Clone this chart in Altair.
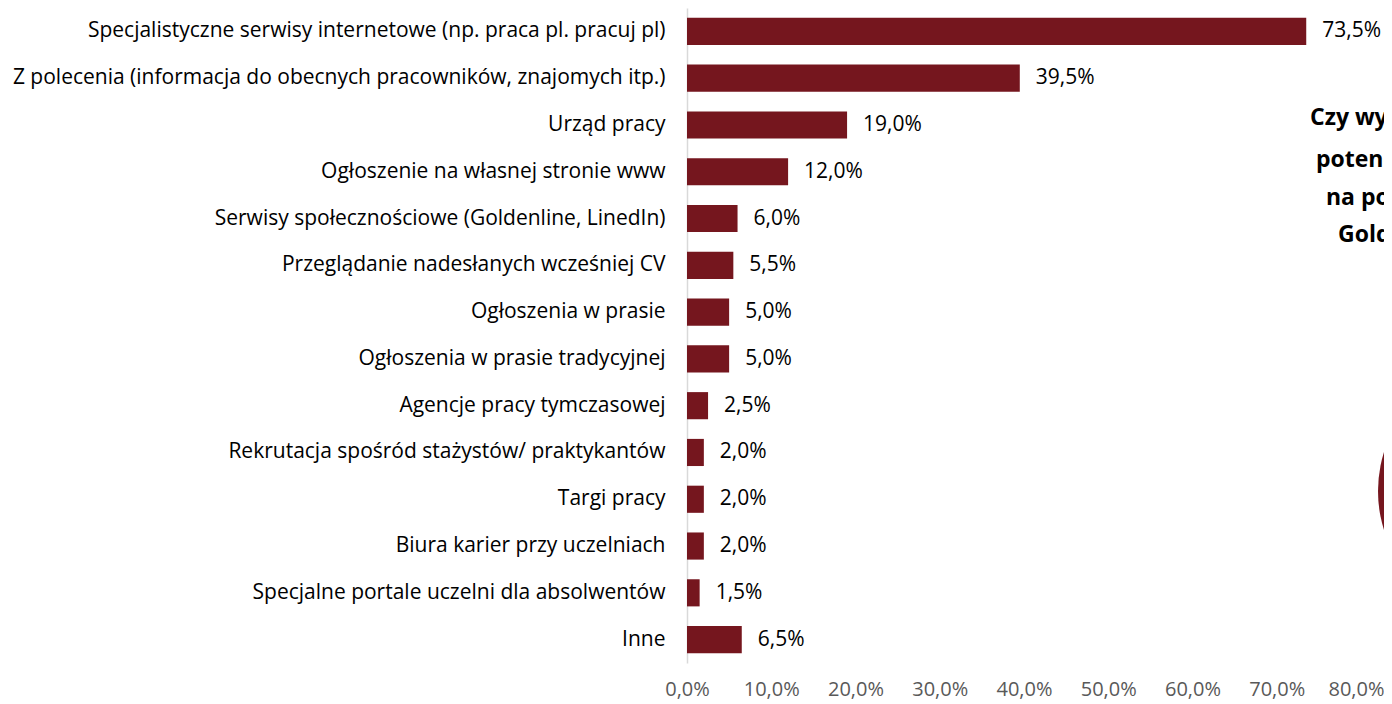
import altair as alt
import pandas as pd

categories = [
    "Specjalistyczne serwisy internetowe (np. praca pl. pracuj pl)",
    "Z polecenia (informacja do obecnych pracowników, znajomych itp.)",
    "Urząd pracy",
    "Ogłoszenie na własnej stronie www",
    "Serwisy społecznościowe (Goldenline, LinedIn)",
    "Przeglądanie nadesłanych wcześniej CV",
    "Ogłoszenia w prasie",
    "Ogłoszenia w prasie tradycyjnej",
    "Agencje pracy tymczasowej",
    "Rekrutacja spośród stażystów/ praktykantów",
    "Targi pracy",
    "Biura karier przy uczelniach",
    "Specjalne portale uczelni dla absolwentów",
    "Inne",
]
values = [73.5, 39.5, 19.0, 12.0, 6.0, 5.5, 5.0, 5.0, 2.5, 2.0, 2.0, 2.0, 1.5, 6.5]
x_ticks = [0, 10, 20, 30, 40, 50, 60, 70, 80]

side_lines = ["Czy wykorzystują", "potencjał", "na  portalu", "GoldenLine?"]

df = pd.DataFrame({
    "cat": categories,
    "val": values,
    "label": [f"{v:.1f}%".replace(".", ",") for v in values],
})

FONT = "Open Sans"
FS = 21
W, H = 674, 655

y_enc = alt.Y("cat:N", sort=categories, title=None,
              scale=alt.Scale(paddingInner=0.42, paddingOuter=0.21),
              axis=alt.Axis(labelFontSize=FS, labelColor="#000000", labelFont=FONT,
                            ticks=False, domain=True, domainColor="#d9d9d9",
                            domainWidth=1.5, labelPadding=22, labelLimit=900))
x_enc = alt.X("val:Q", title=None,
              scale=alt.Scale(domain=[0, 80], nice=False),
              axis=alt.Axis(values=x_ticks, grid=False, domain=False, ticks=False,
                            labelFontSize=20, labelColor="#595959", labelFont=FONT,
                            labelPadding=16, labelFlush=False,
                            labelOffset={"expr": "datum.value == 80 ? -5 : 0"},
                            labelExpr="replace(format(datum.value, '.1f'), '.', ',') + '%'"))

bars = alt.Chart(df).mark_bar(color="#75161e").encode(x=x_enc, y=y_enc)
texts = alt.Chart(df).mark_text(align="left", baseline="middle", dx=16,
                                fontSize=FS, font=FONT, color="#000000").encode(
    x="val:Q", y=alt.Y("cat:N", sort=categories), text="label:N")

side_x = [623, 629, 639, 651]
side_y = [110, 152, 190, 227]
side_layers = []
for i, line in enumerate(side_lines):
    side_layers.append(
        alt.Chart(pd.DataFrame({"t": [line]})).mark_text(
            align="left", baseline="middle", fontSize=23, fontWeight="bold",
            font=FONT, color="#000000").encode(
            text="t:N", x=alt.value(side_x[i]), y=alt.value(side_y[i]))
    )

circle = alt.Chart(pd.DataFrame({"a": [1]})).mark_point(
    shape="circle", filled=True, opacity=1, color="#75161e", size=67600).encode(
    x=alt.value(821), y=alt.value(483))

chart = alt.layer(bars, texts, circle, *side_layers).properties(
    width=W, height=H,
    autosize=alt.AutoSizeParams(type="none"),
    padding={"left": 679, "top": 0, "right": 23, "bottom": 41},
).configure(background="#ffffff").configure_view(strokeWidth=0, stroke="transparent")

chart.save("out.html", embed_options={"renderer": "svg", "actions": False})
